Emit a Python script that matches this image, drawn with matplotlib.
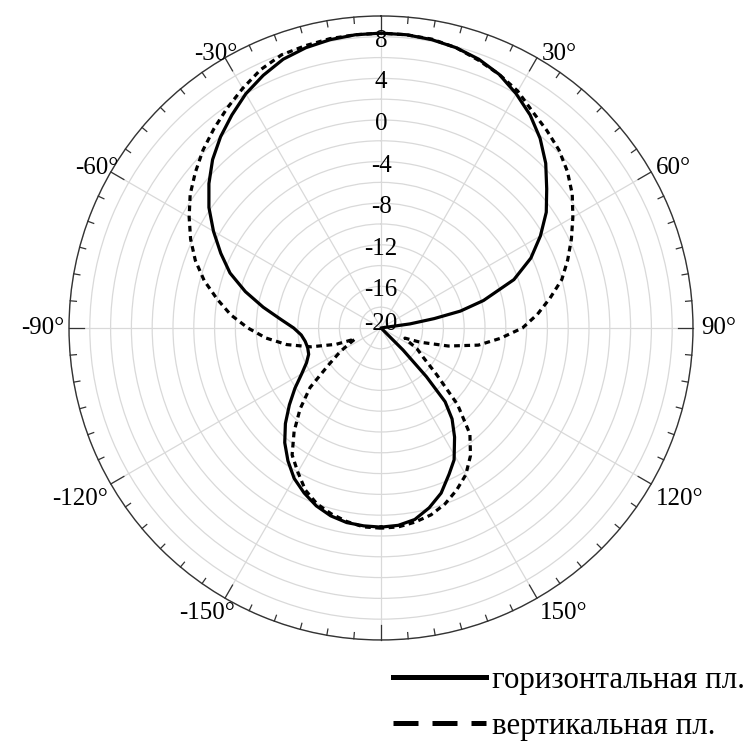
import matplotlib.pyplot as plt
import numpy as np
from matplotlib.lines import Line2D
from matplotlib.transforms import offset_copy

plt.rcParams["font.family"] = ["Liberation Serif", "DejaVu Serif"]

# ---------------------------------------------
# Daten: Diagramm der Richtwirkung (dB) über Winkel (Grad)
# ---------------------------------------------
angles_h = [-180, -175, -170, -165, -160, -155, -150, -145, -140, -135, -130,
            -125, -120, -115, -110, -105, -100, -95, -90, -85, -80, -75, -70,
            -65, -60, -55, -50, -45, -40, -35, -30, -25, -20, -15, -10, -5, 0,
            5, 10, 15, 20, 25, 30, 35, 40, 45, 50, 55, 60, 65, 70, 75, 78, 80,
            82, 84, 90, 100, 110, 120, 130, 133, 135, 137, 139, 142, 146, 151,
            155, 160, 165, 170, 175, 180]
db_h = [-0.85, -0.9, -1.0, -1.3, -1.8, -2.5, -3.3, -4.4, -5.6, -7.0, -8.5,
        -9.9, -11.2, -12.1, -12.6, -12.7, -12.6, -12.3, -11.6, -10.3, -8.5,
        -6.5, -4.55, -3.0, -1.4, 0.2, 1.6, 2.9, 4.0, 5.0, 6.0, 6.8, 7.5, 7.9,
        8.15, 8.3, 8.35, 8.3, 8.15, 7.9, 7.5, 6.9, 6.0, 5.0, 3.8, 2.4, 0.8,
        -0.6, -2.3, -4.1, -6.4, -9.8, -12.2, -14.8, -17.2, -20.0, -20.0, -20.0,
        -20.0, -20.0, -20.0, -20.0, -17.0, -13.6, -10.6, -8.9, -7.35, -5.5,
        -4.5, -3.1, -2.1, -1.3, -0.95, -0.85]

angles_v = [-180, -175, -170, -165, -160, -155, -150, -145, -140, -135, -130,
            -125, -120, -115, -113, -110, -105, -100, -95, -90, -85, -80, -75,
            -70, -65, -60, -55, -50, -45, -40, -35, -30, -25, -20, -15, -10,
            -5, 0, 5, 10, 15, 20, 25, 30, 35, 40, 45, 50, 55, 60, 65, 70, 75,
            80, 85, 90, 95, 100, 105, 110, 113, 115, 120, 125, 130, 135, 140,
            145, 150, 155, 160, 165, 170, 175, 180]
db_v = [-0.75, -0.8, -1.1, -1.5, -2.0, -2.8, -4.0, -5.1, -7.0, -9.0, -11.1,
        -13.9, -15.5, -16.9, -17.3, -15.4, -13.0, -10.8, -8.9, -7.2, -5.5,
        -4.0, -2.4, -1.0, 0.2, 1.3, 2.4, 3.3, 4.2, 5.0, 5.8, 6.6, 7.4, 7.95,
        8.1, 8.25, 8.3, 8.35, 8.3, 8.2, 7.9, 7.4, 6.9, 6.3, 5.4, 4.8, 4.2,
        3.4, 2.45, 1.3, 0.2, -0.9, -2.0, -3.5, -4.9, -6.4, -8.5, -10.5, -13.3,
        -16.0, -17.5, -17.3, -16.0, -15.0, -13.0, -9.6, -6.7, -5.0, -3.7,
        -2.8, -2.0, -1.4, -1.05, -0.8, -0.75]

r_min, r_max = -20, 10
r_label_values = [-20, -16, -12, -8, -4, 0, 4, 8]
theta_label_values = [30, 60, 90, 120, 150, -150, -120, -90, -60, -30]

legend_labels = ["горизонтальная пл.", "вертикальная пл."]

# Verschiebung der Winkelbeschriftung in Pixeln (x)
label_dx = {30: 5, 60: 5, 90: 8, 120: 5, 150: 3,
            -30: 12, -60: 8, -90: -5, -120: -3, -150: 10}

# ---------------------------------------------
# Plot
# ---------------------------------------------
fig = plt.figure(figsize=(7.5, 7.5), dpi=100)
ax = fig.add_axes([0.092, 0.1467, 0.832, 0.832], projection="polar")
ax.set_theta_zero_location("N")
ax.set_theta_direction(-1)
ax.set_ylim(r_min, r_max)

ax.set_thetagrids(np.arange(0, 360, 30), labels=[])
ax.set_rgrids(np.arange(r_min, r_max + 1, 2), labels=[])
ax.tick_params(axis="both", length=0)
ax.grid(True, color="#d9d9d9", lw=0.9)
ax.set_axisbelow(True)
ax.spines["polar"].set_color("#333333")
ax.spines["polar"].set_linewidth(1.0)

ax.plot(np.deg2rad(angles_h), db_h, color="black", lw=2.3, zorder=3)
ax.plot(np.deg2rad(angles_v), db_v, color="black", lw=2.3,
        linestyle=(0, (1.8, 1.4)), zorder=3)

# Randstriche (alle 5 Grad, nach innen)
for a in range(0, 360, 5):
    length = 1.45 if a % 30 == 0 else 0.6
    th = np.deg2rad(a)
    ax.plot([th, th], [r_max - length, r_max], color="#333333", lw=0.9,
            clip_on=False, zorder=4)

# Radiale Beschriftung entlang 0 Grad
for v in r_label_values:
    dy = 4 if v == r_min else -4
    tr = offset_copy(ax.transData, fig=fig, x=0, y=dy, units="dots")
    ax.text(0, v, str(v), ha="center", va="center", fontsize=18, zorder=5,
            transform=tr)

# Winkelbeschriftung aussen
for a in theta_label_values:
    th = np.deg2rad(a)
    s, c = np.sin(th), np.cos(th)
    ha = "left" if s > 0 else "right"
    if abs(c) < 0.1:
        va, dy = "center", 0
    elif c > 0:
        va, dy = "baseline", -2
    else:
        va, dy = "top", -4
    tr = offset_copy(ax.transData, fig=fig, x=label_dx[a], y=dy, units="dots")
    ax.text(th, r_max, f"{a}°", ha=ha, va=va, fontsize=18,
            clip_on=False, transform=tr)

# Legende
handles = [
    Line2D([], [], color="black", lw=3.6),
    Line2D([], [], color="black", lw=3.6, linestyle=(0, (5, 2.8))),
]
fig.legend(handles, legend_labels, loc="upper left",
           bbox_to_anchor=(393 / 750, 1 - 666 / 750), frameon=False,
           fontsize=22.2, handlelength=3.0, handletextpad=0.2,
           labelspacing=0.55, borderpad=0, borderaxespad=0)

plt.savefig("out.png", dpi=100)
